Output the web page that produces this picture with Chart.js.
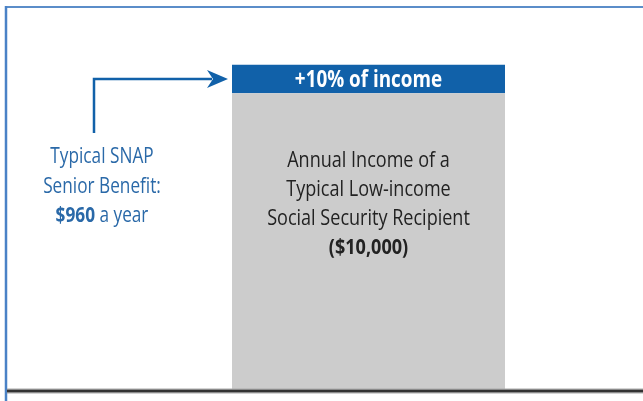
<!doctype html>
<html lang="en">
<head>
    <meta charset="utf-8">
    <title>SNAP benefit vs. income</title>
    <script src="https://cdn.jsdelivr.net/npm/chart.js@4/dist/chart.umd.min.js"></script>
    <style>
        html, body { margin: 0; padding: 0; background: #fff; }
        #wrap { width: 643px; height: 401px; }
    </style>
</head>
<body>
<div id="wrap">
    <canvas id="chart1" width="643" height="401"></canvas>
</div>
<script>
    // data
    const categories = ['Low-income senior'];
    const incomeValues = [10000];      // annual income of a typical low-income SS recipient
    const snapValues = [960];          // typical SNAP senior benefit per year
    const yMax = 12900;

    const incomeLines = ['Annual Income of a', 'Typical Low-income', 'Social Security Recipient'];
    const incomeAmount = '($10,000)';
    const capLabel = '+10% of income';
    const noteLines = ['Typical SNAP', 'Senior Benefit:'];
    const noteAmount = ['$960', ' a year'];

    const FONT = "'Open Sans', 'Noto Sans', sans-serif";
    const NARROW = 0.82;   // squeeze text to look like a condensed face
    const BLUE = '#1161a9';
    const NOTE_BLUE = '#2a69a8';

    function fillNarrow(ctx, text, x, y, align) {
        ctx.save();
        ctx.translate(x, y);
        ctx.scale(NARROW, 1);
        ctx.textAlign = align || 'center';
        ctx.fillText(text, 0, 0);
        ctx.restore();
    }

    // frame, baseline, labels and arrow
    const decor = {
        id: 'decor',
        beforeDraw(chart) {
            const ctx = chart.ctx;
            ctx.save();
            ctx.fillStyle = '#fff';
            ctx.fillRect(0, 0, chart.width, chart.height);
            ctx.restore();
        },
        afterDatasetsDraw(chart) {
            const ctx = chart.ctx;
            const y = chart.scales.y;
            const bar = chart.getDatasetMeta(0).data[0];
            const y0 = y.getPixelForValue(0);
            const yTop = y.getPixelForValue(incomeValues[0]);
            const yCap = y.getPixelForValue(incomeValues[0] + snapValues[0] / 2);
            ctx.save();

            // outer frame
            ctx.strokeStyle = '#5b8dc9';
            ctx.lineWidth = 2;
            ctx.beginPath();
            ctx.moveTo(5, 7);
            ctx.lineTo(chart.width, 7);
            ctx.stroke();
            ctx.strokeStyle = '#4a82c6';
            ctx.lineWidth = 2.5;
            ctx.beginPath();
            ctx.moveTo(6, 6);
            ctx.lineTo(6, chart.height);
            ctx.stroke();

            // baseline
            ctx.strokeStyle = '#aaa';
            ctx.lineWidth = 5;
            ctx.beginPath();
            ctx.moveTo(7, y0);
            ctx.lineTo(chart.width, y0);
            ctx.stroke();
            ctx.strokeStyle = '#333';
            ctx.lineWidth = 2.5;
            ctx.beginPath();
            ctx.moveTo(7, y0);
            ctx.lineTo(chart.width, y0);
            ctx.stroke();

            ctx.textBaseline = 'middle';

            // cap label
            ctx.fillStyle = '#fff';
            ctx.font = 'bold 23px ' + FONT;
            fillNarrow(ctx, capLabel, bar.x, yCap + 1);

            // text inside the gray bar
            ctx.fillStyle = '#222';
            ctx.font = '22px ' + FONT;
            incomeLines.forEach((t, i) => fillNarrow(ctx, t, bar.x, yTop + 67 + i * 29));
            ctx.font = 'bold 22px ' + FONT;
            fillNarrow(ctx, incomeAmount, bar.x, yTop + 67 + 3 * 29);

            // left note
            const nx = 102;
            ctx.fillStyle = NOTE_BLUE;
            ctx.font = '21px ' + FONT;
            noteLines.forEach((t, i) => fillNarrow(ctx, t, nx, 157 + i * 30));
            ctx.font = 'bold 21px ' + FONT;
            const w1 = ctx.measureText(noteAmount[0]).width * NARROW;
            ctx.font = '21px ' + FONT;
            const w2 = ctx.measureText(noteAmount[1]).width * NARROW;
            const sx = nx - (w1 + w2) / 2;
            ctx.font = 'bold 21px ' + FONT;
            fillNarrow(ctx, noteAmount[0], sx, 216, 'left');
            ctx.font = '21px ' + FONT;
            fillNarrow(ctx, noteAmount[1], sx + w1, 216, 'left');

            // arrow
            const ax = 94, tipX = bar.x - bar.width / 2 - 4;
            ctx.strokeStyle = BLUE;
            ctx.fillStyle = BLUE;
            ctx.lineWidth = 2.5;
            ctx.beginPath();
            ctx.moveTo(ax, 133);
            ctx.lineTo(ax, yCap);
            ctx.lineTo(tipX - 16, yCap);
            ctx.stroke();
            ctx.beginPath();
            ctx.moveTo(tipX, yCap);
            ctx.lineTo(tipX - 21, yCap - 9);
            ctx.lineTo(tipX - 15, yCap);
            ctx.lineTo(tipX - 21, yCap + 9);
            ctx.closePath();
            ctx.fill();

            ctx.restore();
        }
    };

    new Chart(document.getElementById('chart1').getContext('2d'), {
        type: 'bar',
        data: {
            labels: categories,
            datasets: [{
                label: 'Annual income',
                data: incomeValues,
                backgroundColor: '#cccccc',
                borderWidth: 0,
                categoryPercentage: 1,
                barPercentage: 273 / 549
            }, {
                label: 'SNAP benefit',
                data: snapValues,
                backgroundColor: BLUE,
                borderWidth: 0,
                categoryPercentage: 1,
                barPercentage: 273 / 549
            }]
        },
        options: {
            responsive: false,
            animation: false,
            layout: { padding: { left: 94, right: 0, top: 7, bottom: 10 } },
            plugins: {
                legend: { display: false },
                tooltip: { enabled: false }
            },
            scales: {
                x: { stacked: true, display: false },
                y: { stacked: true, display: false, min: 0, max: yMax }
            }
        },
        plugins: [decor]
    });
</script>
</body>
</html>
